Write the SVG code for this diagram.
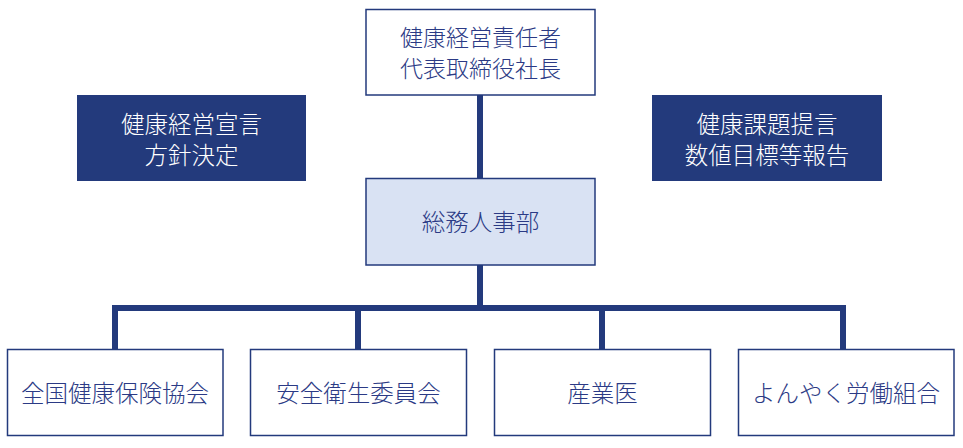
<svg xmlns="http://www.w3.org/2000/svg" width="963" height="448" viewBox="0 0 963 448">
<style>
.box{fill:#ffffff;stroke:#233a7c;stroke-width:1.5}
.dark{fill:#233a7c;stroke:none}
.light{fill:#d9e2f3;stroke:#233a7c;stroke-width:1.5}
.t{font-family:"Noto Sans CJK JP","Noto Sans CJK SC",sans-serif;font-size:23.5px;font-weight:300;fill:#2b3a85;text-anchor:middle;dominant-baseline:central}
.s{font-size:23px}
.w{fill:#ffffff}
.c{fill:none;stroke:#233a7c;stroke-width:6}
</style>
<rect width="963" height="448" fill="#ffffff"/>
<g id="connectors">
<path class="c" d="M480,95 V178 M480,265 V308 M115,349 V308 H843 V349 M358,308 V349 M602,308 V349"/>
</g>
<g id="top">
<rect class="box" x="366" y="9.5" width="229" height="85.5"/>
<text class="t s"><tspan x="480.5" y="35.5">健康経営責任者</tspan><tspan x="480.5" y="67">代表取締役社長</tspan></text>
</g>
<g id="left">
<rect class="dark" x="77" y="95" width="229" height="86"/>
<text class="t w"><tspan x="191.5" y="123">健康経営宣言</tspan><tspan x="191.5" y="154">方針決定</tspan></text>
</g>
<g id="right">
<rect class="dark" x="652" y="95" width="230" height="86"/>
<text class="t w"><tspan x="767" y="123">健康課題提言</tspan><tspan x="767" y="154">数値目標等報告</tspan></text>
</g>
<g id="middle">
<rect class="light" x="366" y="178.5" width="229" height="86.5"/>
<text class="t" x="480.5" y="221">総務人事部</text>
</g>
<g id="b1">
<rect class="box" x="7.5" y="349.5" width="215.5" height="86"/>
<text class="t" x="115" y="392">全国健康保険協会</text>
</g>
<g id="b2">
<rect class="box" x="250.5" y="349.5" width="216" height="86"/>
<text class="t" x="358.5" y="392">安全衛生委員会</text>
</g>
<g id="b3">
<rect class="box" x="494.5" y="349.5" width="216" height="86"/>
<text class="t" x="602.5" y="392">産業医</text>
</g>
<g id="b4">
<rect class="box" x="738.5" y="349.5" width="215.5" height="86"/>
<text class="t" x="846" y="392">よんやく労働組合</text>
</g>
</svg>
